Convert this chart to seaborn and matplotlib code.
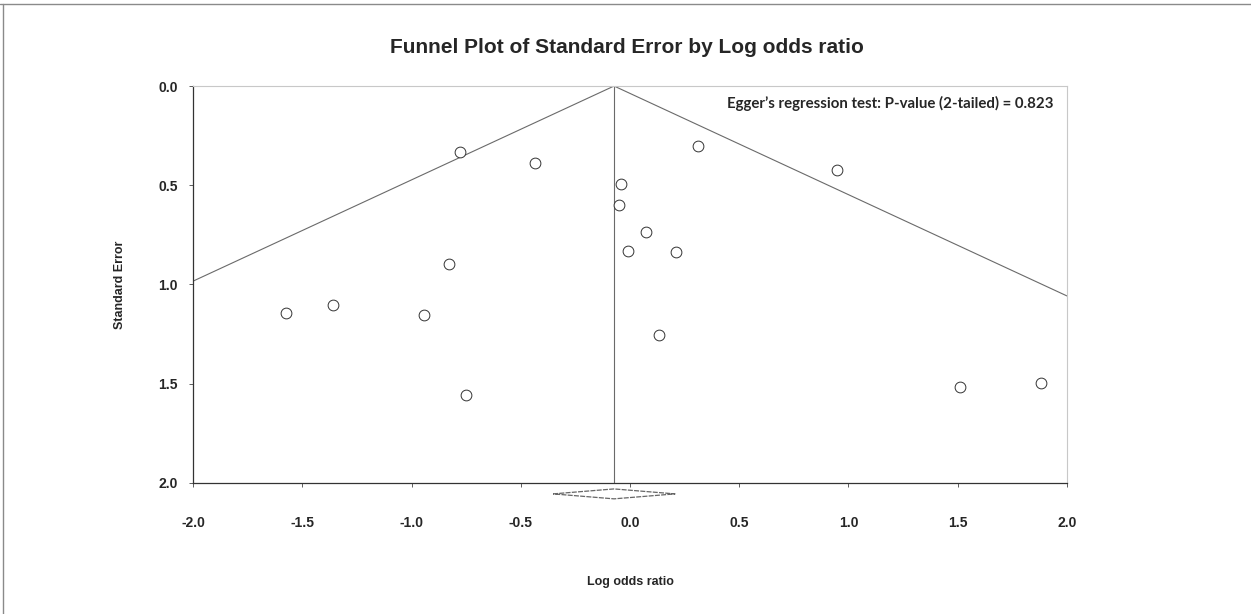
import numpy as np
import pandas as pd
import seaborn as sns
import matplotlib
matplotlib.use("Agg")
import matplotlib.pyplot as plt
from matplotlib.lines import Line2D

# Study-level effects (log odds ratio) and their standard errors
log_odds = [-0.778, -0.435, -0.040, -0.049, 0.073, -0.011, -0.828, 0.310, 0.946,
            0.212, -1.576, -1.359, -0.944, -0.751, 0.131, 1.512, 1.881]
std_err = [0.331, 0.386, 0.495, 0.600, 0.734, 0.830, 0.895, 0.301, 0.423,
           0.835, 1.145, 1.103, 1.155, 1.558, 1.256, 1.518, 1.498]

# Pooled estimate and its 95% confidence interval
pooled = -0.073
pooled_ci = [-0.352, 0.206]

x_ticks = [-2.0, -1.5, -1.0, -0.5, 0.0, 0.5, 1.0, 1.5, 2.0]
y_ticks = [0.0, 0.5, 1.0, 1.5, 2.0]

title = "Funnel Plot of Standard Error by Log odds ratio"
egger_text = "Egger\u2019s regression test: P-value (2-tailed) = 0.823"

sns.set_theme(style="white")
plt.rcParams["font.family"] = ["Liberation Sans", "DejaVu Sans"]

df = pd.DataFrame({"Log odds ratio": log_odds, "Standard Error": std_err})

fig = plt.figure(figsize=(12.51, 6.14), dpi=100)
ax = fig.add_axes([0.1543, 0.2134, 0.6986, 0.6465])

# Funnel: pseudo 95% limits around the pooled estimate
se_line = np.array([0.0, 2.0])
ax.plot(pooled - 1.96 * se_line, se_line, color="#6a6a6a", lw=0.8, zorder=1)
ax.plot(pooled + 1.96 * se_line, se_line, color="#6a6a6a", lw=0.8, zorder=1)
ax.plot([pooled, pooled], [0.0, 2.0], color="#6a6a6a", lw=0.8, zorder=1)

sns.scatterplot(data=df, x="Log odds ratio", y="Standard Error", ax=ax,
                marker="o", s=60, facecolor="white", edgecolor="#333333",
                linewidth=0.7, zorder=3, legend=False)

ax.set_xlim(-2.0, 2.0)
ax.set_ylim(2.0, 0.0)
ax.set_xticks(x_ticks)
ax.set_yticks(y_ticks)
ax.set_xticklabels([f"{v:.1f}" for v in x_ticks], fontweight="bold", fontsize=10)
ax.set_yticklabels([f"{v:.1f}" for v in y_ticks], fontweight="bold", fontsize=10)

# Summary diamond drawn just below the axis
dy = 0.025
yc = 2.055
ax.add_line(Line2D([pooled_ci[0], pooled, pooled_ci[1], pooled, pooled_ci[0]],
                   [yc, yc - dy, yc, yc + dy, yc],
                   color="#666666", lw=0.9, linestyle=(0, (4, 1)), clip_on=False))

ax.tick_params(axis="x", direction="out", length=3, width=0.6, color="#444444",
               pad=21, bottom=True)
ax.tick_params(axis="y", direction="out", length=3, width=0.6, color="#444444",
               pad=8, left=True)

for side in ["left", "bottom"]:
    ax.spines[side].set_color("#333333")
    ax.spines[side].set_linewidth(0.9)
for side in ["top", "right"]:
    ax.spines[side].set_color("#c8c8c8")
    ax.spines[side].set_linewidth(0.8)

ax.set_xlabel("Log odds ratio", fontweight="bold", fontsize=9, labelpad=33)
ax.set_ylabel("Standard Error", fontweight="bold", fontsize=9, labelpad=23)

ax.text(0.985, 0.955, egger_text, transform=ax.transAxes, ha="right", va="center",
        fontsize=10.8, fontweight="bold", family=["Lato", "DejaVu Sans"])

fig.text(0.501, 0.923, title, ha="center", va="center", fontsize=15,
         fontweight="bold")

# Thin frame along the top and left edges of the figure
fig.add_artist(Line2D([0.0, 1.0], [0.994, 0.994], transform=fig.transFigure,
                      color="#8a8a8a", lw=1.0))
fig.add_artist(Line2D([0.0025, 0.0025], [0.0, 0.994], transform=fig.transFigure,
                      color="#8a8a8a", lw=1.0))

fig.savefig("out.png", dpi=100, facecolor="white")
